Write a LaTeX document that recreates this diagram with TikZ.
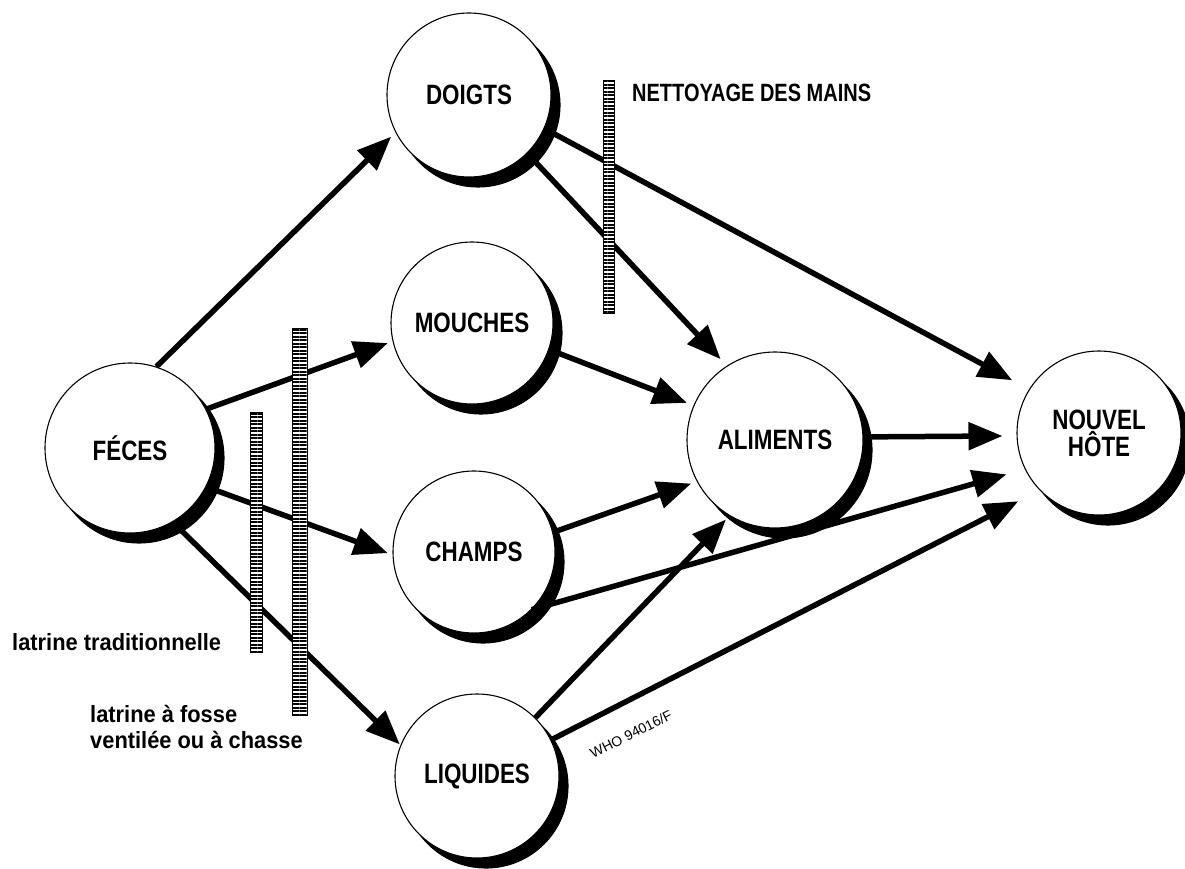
\documentclass[tikz,border=0pt]{standalone}
\usepackage{fontspec}
\setmainfont{Liberation Sans}
\newfontfamily\condfont[FakeStretch=0.8]{Liberation Sans}
\newfontfamily\labfont[FakeStretch=0.93]{Liberation Sans}
\usetikzlibrary{arrows.meta,patterns.meta}
\begin{document}
\begin{tikzpicture}[x=1pt,y=-1pt,
  circ/.style={circle, draw, line width=1.1pt, fill=white, inner sep=0pt, align=center,
    font=\condfont\bfseries\fontsize{28}{27}\selectfont},
  shadowc/.style={circle, fill=black, draw=black, line width=1.1pt, inner sep=0pt},
  arr/.style={line width=5.5pt, -{Triangle[length=34pt,width=27pt]}},
  bar/.style={draw, line width=0.6pt, preaction={fill=white},
    pattern={Lines[angle=0,distance=3.5pt,line width=2pt]}},
  captext/.style={inner sep=0pt, font=\condfont\bfseries\fontsize{25}{27}\selectfont},
  labtext/.style={inner sep=0pt, font=\labfont\bfseries\fontsize{23.5}{26}\selectfont}]
\fill[white] (0,0) rectangle (1185,869);
\useasboundingbox (0,0) rectangle (1185,869);

\node[shadowc, minimum size=170pt] (Fs) at (139,458) {};
\node[shadowc, minimum size=164pt] (Ds) at (478,105) {};
\node[shadowc, minimum size=162pt] (Ms) at (481,333) {};
\node[shadowc, minimum size=162pt] (Cs) at (483,562) {};
\node[shadowc, minimum size=164pt] (Ls) at (486,786) {};
\node[shadowc, minimum size=176pt] (As) at (784,450) {};
\node[shadowc, minimum size=164pt] (Ns) at (1108,443) {};

\node[circ, minimum size=170pt] (F) at (130,448) {FÉCES};
\node[circ, minimum size=164pt] (D) at (469,95) {DOIGTS};
\node[circ, minimum size=162pt] (M) at (472,323) {MOUCHES};
\node[circ, minimum size=162pt] (C) at (474,552) {CHAMPS};
\node[circ, minimum size=164pt] (L) at (477,776) {LIQUIDES};
\node[circ, minimum size=176pt] (A) at (775,440) {ALIMENTS};
\node[circ, minimum size=164pt] (N) at (1099,433) {NOUVEL\\HÔTE};

\draw[arr, shorten >=6pt] (F.72) -- (D.207);
\draw[arr, shorten >=5pt] (F.27) -- (M.193);
\draw[arr, shorten >=5pt] (F.-27) -- (C.182);
\draw[arr, shorten >=1pt] (F.-60) -- (L.158);
\draw[arr, shorten >=9pt] (D.-45) -- (A.123);
\draw[arr, shorten >=19pt] (D.-24) -- (N.148);
\draw[arr, shorten >=7pt] (M.-19) -- (A.157);
\draw[arr, shorten >=6pt] (C.14) -- (A.208);
\draw[arr, shorten >=19pt] (C.-45) -- (N.206);
\draw[arr, shorten >=14pt] (A.2) -- (N.182);
\draw[arr, shorten >=5pt] (L.45) -- (A.239);
\draw[arr, shorten >=24pt] (L.26) -- (N.224);

\path[bar] (603,80) rectangle (614,313);
\path[bar] (250,412) rectangle (262,652);
\path[bar] (292,328) rectangle (307,715);

\node[captext, anchor=west] (hands) at (632,93) {NETTOYAGE DES MAINS};
\node[labtext, anchor=west] (lt) at (12,642) {latrine traditionnelle};
\node[labtext, anchor=base west] (lv1) at (90,722) {latrine à fosse};
\node[labtext, anchor=base west] (lv2) at (90,748) {ventilée ou à chasse};
\node[inner sep=0pt, rotate=26.5, font=\fontsize{14}{14}\selectfont] (who) at (631,734) {WHO 94016/F};
\end{tikzpicture}
\end{document}
